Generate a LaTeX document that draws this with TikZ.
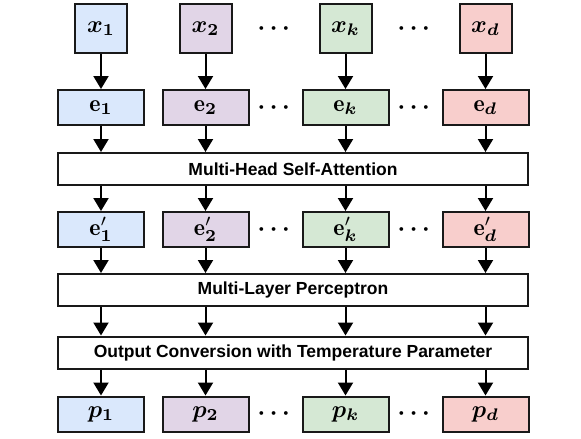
\documentclass[tikz,border=0pt]{standalone}
\usepackage{amsmath,bm,graphicx}
\usepackage{fontspec}
\setsansfont{Liberation Sans}
\usetikzlibrary{arrows.meta}
\definecolor{cblue}{HTML}{DAE8FC}
\definecolor{cpurple}{HTML}{E1D5E7}
\definecolor{cgreen}{HTML}{D5E8D4}
\definecolor{cred}{HTML}{F8CECC}
\newcommand{\mybigmath}[1]{\scalebox{2.4}{$#1$}}
\begin{document}
\begin{tikzpicture}[x=1pt,y=-1pt,
  box/.style={draw=black!90,line width=2pt,inner sep=0pt},
  xbox/.style={box,minimum width=52pt,minimum height=49pt},
  ebox/.style={box,minimum width=86pt,minimum height=35pt},
  layer/.style={draw=black!90,line width=2pt,inner sep=0pt,minimum width=470pt,minimum height=32pt,fill=white,font=\sffamily\bfseries\fontsize{17.5}{20}\selectfont},
  arr/.style={line width=2pt,-{Triangle[length=13pt,width=15pt]}},
  dots/.style={inner sep=0pt}]
\useasboundingbox (0,0) rectangle (581,439);
% columns
\def\ca{101}\def\cb{205.5}\def\cc{345.5}\def\cd{485.5}
% row 1
\node[xbox,fill=cblue] (x1) at (\ca,28.5) {\mybigmath{\boldsymbol{x}_{\boldsymbol{1}}}};
\node[xbox,fill=cpurple] (x2) at (\cb,28.5) {\mybigmath{\boldsymbol{x}_{\boldsymbol{2}}}};
\node[xbox,fill=cgreen] (xk) at (\cc,28.5) {\mybigmath{\boldsymbol{x}_{\boldsymbol{k}}}};
\node[xbox,fill=cred] (xd) at (\cd,28.5) {\mybigmath{\boldsymbol{x}_{\boldsymbol{d}}}};
\node[dots] (dx1) at (276,28.5) {\mybigmath{\boldsymbol{\cdots}}};
\node[dots] (dx2) at (416,28.5) {\mybigmath{\boldsymbol{\cdots}}};
% row 2
\node[ebox,fill=cblue] (e1) at (\ca,107.5) {\mybigmath{\mathbf{e}_{\boldsymbol{1}}}};
\node[ebox,fill=cpurple] (e2) at (\cb,107.5) {\mybigmath{\mathbf{e}_{\boldsymbol{2}}}};
\node[ebox,fill=cgreen] (ek) at (\cc,107.5) {\mybigmath{\mathbf{e}_{\boldsymbol{k}}}};
\node[ebox,fill=cred] (ed) at (\cd,107.5) {\mybigmath{\mathbf{e}_{\boldsymbol{d}}}};
\node[dots] (de1) at (276,107.5) {\mybigmath{\boldsymbol{\cdots}}};
\node[dots] (de2) at (416,107.5) {\mybigmath{\boldsymbol{\cdots}}};
% MHSA
\node[layer] (mhsa) at (293,169) {Multi-Head Self-Attention};
% row 3
\node[ebox,fill=cblue] (f1) at (\ca,229.5) {\mybigmath{\mathbf{e}'_{\boldsymbol{1}}}};
\node[ebox,fill=cpurple] (f2) at (\cb,229.5) {\mybigmath{\mathbf{e}'_{\boldsymbol{2}}}};
\node[ebox,fill=cgreen] (fk) at (\cc,229.5) {\mybigmath{\mathbf{e}'_{\boldsymbol{k}}}};
\node[ebox,fill=cred] (fd) at (\cd,229.5) {\mybigmath{\mathbf{e}'_{\boldsymbol{d}}}};
\node[dots] (df1) at (276,229.5) {\mybigmath{\boldsymbol{\cdots}}};
\node[dots] (df2) at (416,229.5) {\mybigmath{\boldsymbol{\cdots}}};
% MLP
\node[layer] (mlp) at (293,290) {Multi-Layer Perceptron};
% Output conversion
\node[layer] (oc) at (293,352.5) {Output Conversion with Temperature Parameter};
% row 4
\node[ebox,fill=cblue] (p1) at (\ca,414) {\mybigmath{\boldsymbol{p}_{\boldsymbol{1}}}};
\node[ebox,fill=cpurple] (p2) at (\cb,414) {\mybigmath{\boldsymbol{p}_{\boldsymbol{2}}}};
\node[ebox,fill=cgreen] (pk) at (\cc,414) {\mybigmath{\boldsymbol{p}_{\boldsymbol{k}}}};
\node[ebox,fill=cred] (pd) at (\cd,414) {\mybigmath{\boldsymbol{p}_{\boldsymbol{d}}}};
\node[dots] (dp1) at (276,414) {\mybigmath{\boldsymbol{\cdots}}};
\node[dots] (dp2) at (416,414) {\mybigmath{\boldsymbol{\cdots}}};
% arrows
\foreach \s in {1,2,k,d}{
  \draw[arr] (x\s) -- (e\s);
  \draw[arr] (e\s) -- (e\s |- mhsa.north);
  \draw[arr] (e\s |- mhsa.south) -- (f\s);
  \draw[arr] (f\s) -- (f\s |- mlp.north);
  \draw[arr] (f\s |- mlp.south) -- (f\s |- oc.north);
  \draw[arr] (f\s |- oc.south) -- (p\s);
}
\end{tikzpicture}
\end{document}
